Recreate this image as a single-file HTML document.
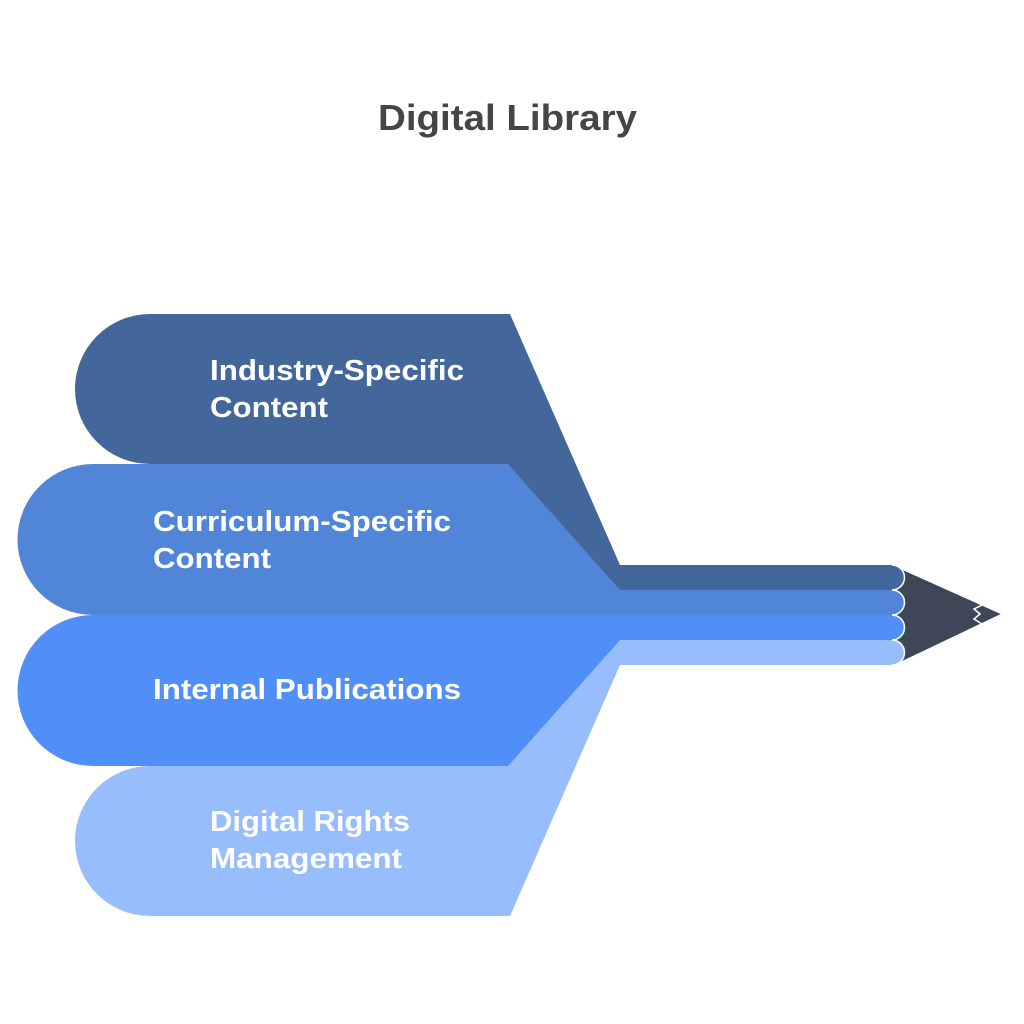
<!DOCTYPE html>
<html><head><style>
body{margin:0;background:#fff;}
svg{display:block;}
text{font-family:"Liberation Sans",sans-serif;font-weight:bold;}
</style></head><body>
<svg width="1024" height="1024" viewBox="0 0 1024 1024">
<text x="378" y="130" font-size="36" fill="#454545" textLength="259" lengthAdjust="spacingAndGlyphs">Digital Library</text>
<!-- pencil tip -->
<polygon points="895,566 1002,614 895,665" fill="#3d4758" stroke="#fff" stroke-width="1"/>
<polyline points="982,605 974,609 980,614 974,619 982,624" fill="none" stroke="#fff" stroke-width="1.5"/>
<!-- shape 1 -->
<path d="M150,314 L510,314 L620,565 L892,565 A12.5,12.5 0 0 1 892,590 L620,590 L500,464 L150,464 A75,75 0 0 1 150,314 Z" fill="#44679b"/>
<!-- shape 4 -->
<path d="M150,916 L510,916 L620,665 L892,665 A12.5,12.5 0 0 0 892,640 L620,640 L500,766 L150,766 A75,75 0 0 0 150,916 Z" fill="#97bdfc"/>
<!-- shape 2 -->
<path d="M93,464 L508,464 L620,590 L892,590 A12.5,12.5 0 0 1 892,615 L93,615 A75.5,75.5 0 0 1 93,464 Z" fill="#5185d8"/>
<!-- shape 3 -->
<path d="M93,615 L892,615 A12.5,12.5 0 0 1 892,640 L620,640 L508,766 L93,766 A75.5,75.5 0 0 1 93,615 Z" fill="#508ff7"/>
<!-- cap outlines -->
<g fill="none" stroke="#fff" stroke-width="1.5">
<path d="M892,565 A12.5,12.5 0 0 1 892,590"/>
<path d="M892,590 A12.5,12.5 0 0 1 892,615"/>
<path d="M892,615 A12.5,12.5 0 0 1 892,640"/>
<path d="M892,640 A12.5,12.5 0 0 1 892,665"/>
</g>
<g fill="#fff" font-size="29" lengthAdjust="spacingAndGlyphs">
<text x="210" y="380" textLength="254" lengthAdjust="spacingAndGlyphs">Industry-Specific</text>
<text x="210" y="417" textLength="118" lengthAdjust="spacingAndGlyphs">Content</text>
<text x="153" y="531" textLength="298" lengthAdjust="spacingAndGlyphs">Curriculum-Specific</text>
<text x="153" y="568" textLength="118" lengthAdjust="spacingAndGlyphs">Content</text>
<text x="153" y="699" textLength="308" lengthAdjust="spacingAndGlyphs">Internal Publications</text>
<text x="210" y="831" textLength="200" lengthAdjust="spacingAndGlyphs">Digital Rights</text>
<text x="210" y="868" textLength="192" lengthAdjust="spacingAndGlyphs">Management</text>
</g>
</svg>
</body></html>
